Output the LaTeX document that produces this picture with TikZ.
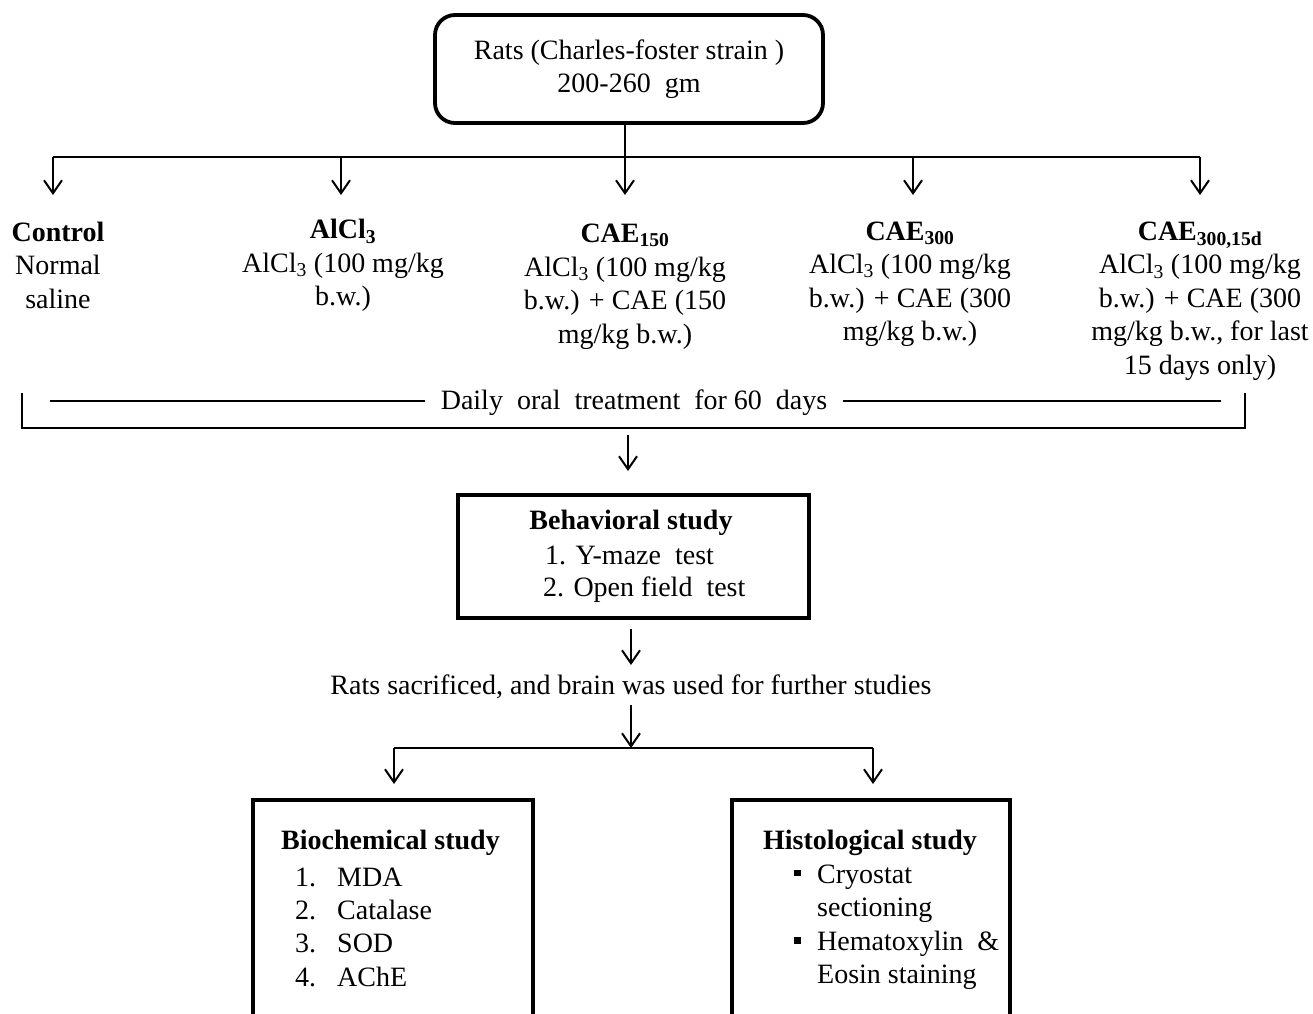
\documentclass[tikz,border=0pt]{standalone}
\usepackage{fontspec}
\setmainfont{Liberation Serif}
\usetikzlibrary{arrows.meta}
\newcommand{\bulsq}{\makebox[23pt][l]{\rule[7pt]{6.5pt}{6.5pt}}}
\begin{document}
\begin{tikzpicture}[x=1pt,y=-1pt,
  every node/.style={font=\fontsize{28}{33.5}\selectfont, inner sep=0pt},
  hd/.style={font=\fontsize{28}{33.5}\selectfont\bfseries},
  conn/.style={line width=2pt},
  arr/.style={line width=2pt,-{Straight Barb[length=13pt,width=18pt]}},
  box/.style={draw,line width=3.8pt},
  grp/.style={align=center},
]
\useasboundingbox (0,0) rectangle (1313,1013);
\clip (0,0) rectangle (1313,1013);

% top box
\node[box,rounded corners=20pt,minimum width=388pt,minimum height=108pt,align=center] (top) at (629,69)
  {Rats (Charles-foster strain )\\200-260\ \ gm};

% distribution
\coordinate (hub) at (625,157);
\coordinate (b1) at (53,157);
\coordinate (b2) at (341,157);
\coordinate (b4) at (913,157);
\coordinate (b5) at (1200,157);
\coordinate (t1) at (53,195);
\coordinate (t2) at (341,195);
\coordinate (t3) at (625,195);
\coordinate (t4) at (913,195);
\coordinate (t5) at (1200,195);
\draw[conn] (b1) -- (b5);
\draw[arr] (b1) -- (t1);
\draw[arr] (b2) -- (t2);
\draw[arr] (top.south -| hub) -- (t3);
\draw[arr] (b4) -- (t4);
\draw[arr] (b5) -- (t5);

% groups
\node[grp] (g1) at (58,265) {\textbf{Control}\\Normal\\saline};
\node[grp] (g2) at (343,265.5) {\textbf{AlCl\textsubscript{3}}\\AlCl\textsubscript{3} (100 mg/kg\\b.w.)};
\node[grp] (g3) at (625,286.5) {\textbf{CAE\textsubscript{150}}\\AlCl\textsubscript{3} (100 mg/kg\\b.w.) + CAE (150\\mg/kg b.w.)};
\node[grp] (g4) at (910,284) {\textbf{CAE\textsubscript{300}}\\AlCl\textsubscript{3} (100 mg/kg\\b.w.) + CAE (300\\mg/kg b.w.)};
\node[grp] (g5) at (1200,301) {\textbf{CAE\textsubscript{300,15d}}\\AlCl\textsubscript{3} (100 mg/kg\\b.w.) + CAE (300\\mg/kg b.w., for last\\15 days only)};

% bracket
\coordinate (bl) at (22,393);
\coordinate (bl2) at (22,428);
\coordinate (br2) at (1245,428);
\coordinate (br) at (1245,393);
\draw[conn] (bl) -- (bl2) -- (br2) -- (br);
\node[inner xsep=16pt] (daily) at (634,403) {Daily\ \ oral\ \ treatment\ \ for 60\ \ days};
\coordinate (dl) at (50,401);
\coordinate (dr) at (1221,401);
\draw[conn] (dl) -- (dl -| daily.west);
\draw[conn] (dr -| daily.east) -- (dr);

% to behavioral
\coordinate (c1) at (628,435);
\coordinate (c2) at (628,471);
\draw[arr] (c1) -- (c2);

\node[box,minimum width=351pt,minimum height=123pt] (beh) at (633.5,556.5) {};
\node[hd] (behh) at (631,523) {Behavioral study};
\node[anchor=west] (beh1) at (545,555) {1. Y-maze\ \ test};
\node[anchor=west] (beh2) at (543,590) {2. Open field\ \ test};

\coordinate (c3) at (631,665);
\draw[arr,shorten <=9pt] (beh.south -| c3) -- (c3);

\node (sac) at (631,687) {Rats sacrificed, and brain was used for further studies};
\coordinate (hub2) at (631,748);
\draw[arr,shorten <=6pt] (sac.south -| hub2) -- (hub2);
\coordinate (s1) at (394,748);
\coordinate (s2) at (873,748);
\coordinate (u1) at (394,784);
\coordinate (u2) at (873,784);
\draw[conn] (s1) -- (s2);
\draw[arr] (s1) -- (u1);
\draw[arr] (s2) -- (u2);

% bottom boxes
\node[box,anchor=north,minimum width=280pt,minimum height=262pt] (bio) at (393,798) {};
\node[box,anchor=north,minimum width=278pt,minimum height=262pt] (his) at (871,798) {};

\node[hd] (bioh) at (390.5,843) {Biochemical study};
\node[anchor=west] (bio1) at (295,877) {\makebox[42pt][l]{1.}MDA};
\node[anchor=west] (bio2) at (295,910) {\makebox[42pt][l]{2.}Catalase};
\node[anchor=west] (bio3) at (295,943.5) {\makebox[42pt][l]{3.}SOD};
\node[anchor=west] (bio4) at (295,977) {\makebox[42pt][l]{4.}AChE};

\node[hd] (hish) at (870,843) {Histological study};
\node[anchor=west] (his1) at (794,877) {\bulsq Cryostat};
\node[anchor=west] (his2) at (817,910) {sectioning};
\node[anchor=west] (his3) at (794,944) {\bulsq Hematoxylin\ \ \&};
\node[anchor=west] (his4) at (817,977) {Eosin staining};
\end{tikzpicture}
\end{document}
